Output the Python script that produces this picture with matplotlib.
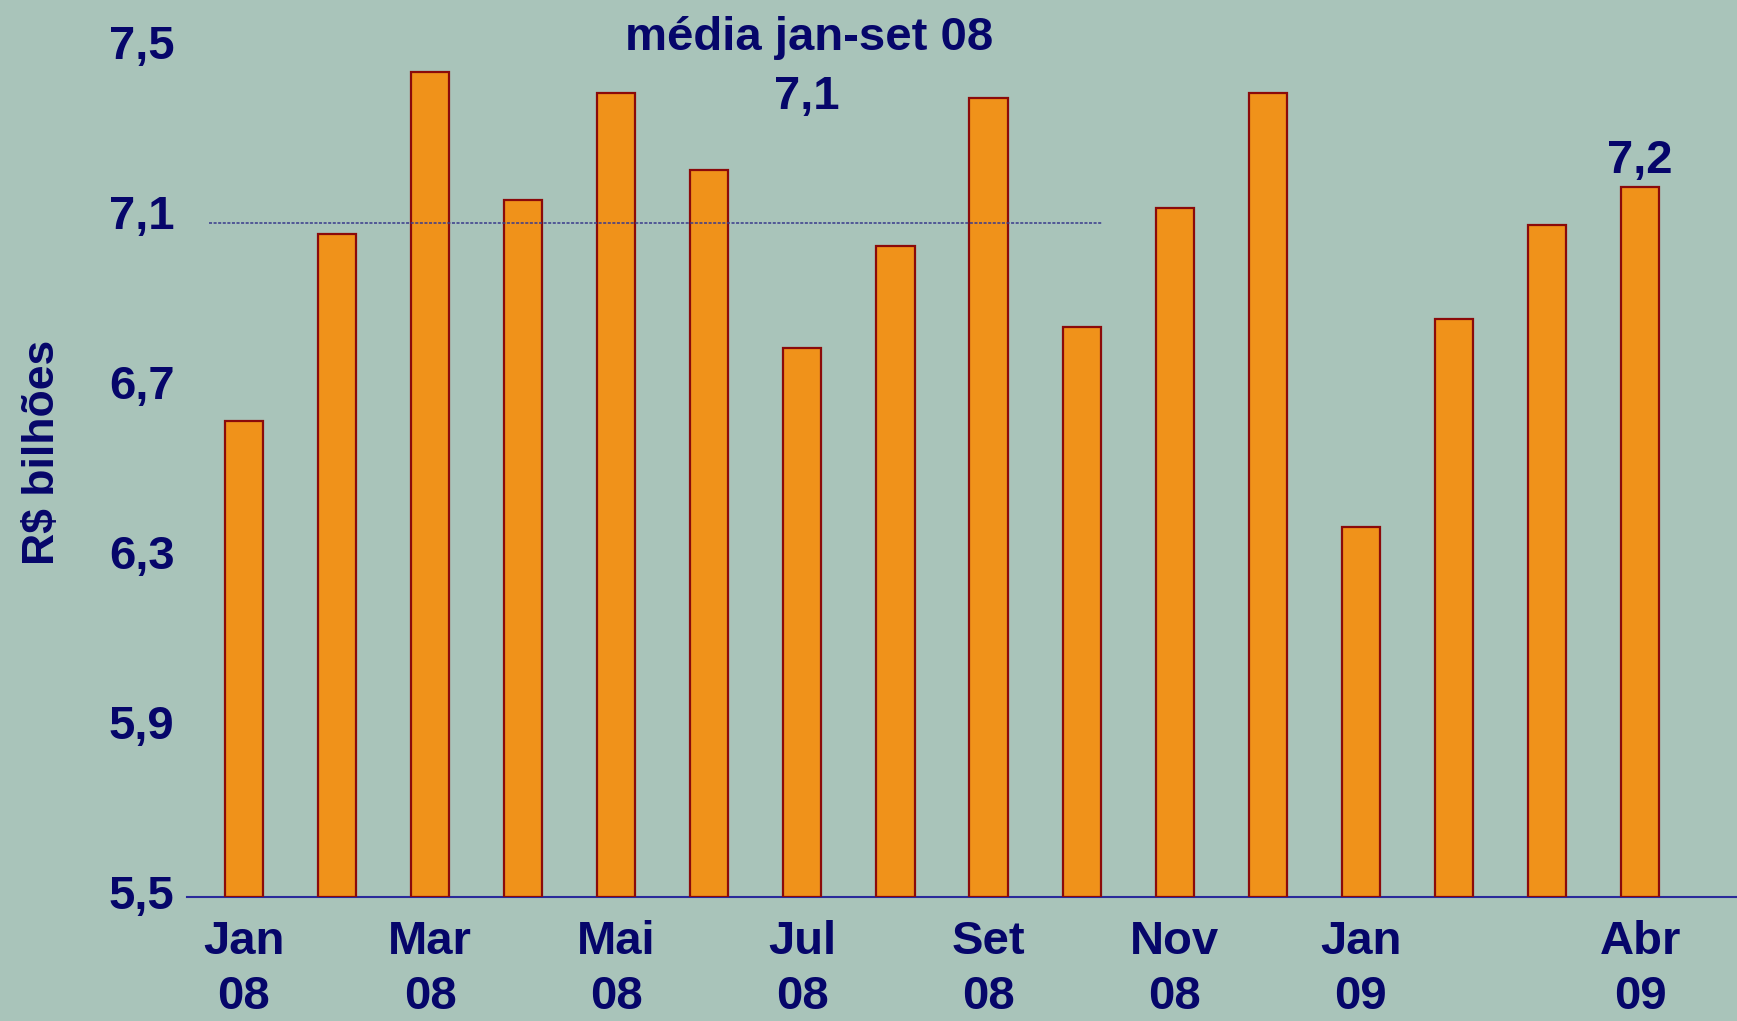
import matplotlib
matplotlib.use("Agg")
import matplotlib.pyplot as plt

# arrecadação mensal, R$ bilhões
meses = ["Jan 08", "Fev 08", "Mar 08", "Abr 08", "Mai 08", "Jun 08", "Jul 08", "Ago 08",
         "Set 08", "Out 08", "Nov 08", "Dez 08", "Jan 09", "Fev 09", "Mar 09", "Abr 09"]
valores = [6.62, 7.06, 7.44, 7.14, 7.39, 7.21, 6.79, 7.03,
           7.38, 6.84, 7.12, 7.39, 6.37, 6.86, 7.08, 7.17]
rotulos_x = ["Jan\n08", "", "Mar\n08", "", "Mai\n08", "", "Jul\n08", "",
             "Set\n08", "", "Nov\n08", "", "Jan\n09", "", "", "Abr\n09"]
y_ticks = [5.5, 5.9, 6.3, 6.7, 7.1, 7.5]
media_jan_set = 7.085

navy = "#06066a"
fundo = "#a9c4ba"

plt.rcParams["font.family"] = ["Liberation Sans", "DejaVu Sans"]
plt.rcParams["font.weight"] = "bold"

fig = plt.figure(figsize=(17.37, 10.21), dpi=100, facecolor=fundo)
ax = fig.add_axes([0.1077, 0.1217, 0.8923, 0.8326])
ax.set_facecolor("none")

x = list(range(len(valores)))
ax.bar(x, [v - 5.5 for v in valores], bottom=5.5, width=0.41,
       color="#f0921a", edgecolor="#8b0a0a", linewidth=1.6, zorder=2)

# linha da media jan-set 08
ax.plot([-0.375, 9.22], [media_jan_set, media_jan_set], color="#3a3a8c",
        linewidth=1.1, linestyle=(0, (2, 1)), zorder=3)

ax.set_xlim(-0.61, 16.04)
ax.set_ylim(5.5, 7.5)

ax.set_yticks(y_ticks)
ax.set_yticklabels([f"{t:.1f}".replace(".", ",") for t in y_ticks], va="center")
ax.set_xticks(x)
ax.set_xticklabels(rotulos_x, linespacing=1.3)
ax.tick_params(axis="both", length=0, labelsize=34, labelcolor=navy)
ax.tick_params(axis="y", pad=9)
ax.tick_params(axis="x", pad=17)

for s in ["top", "right", "left"]:
    ax.spines[s].set_visible(False)
ax.spines["bottom"].set_color("#2a2a9a")
ax.spines["bottom"].set_linewidth(1.5)
ax.spines["bottom"].set_zorder(1)

ax.annotate("7,2", xy=(x[-1], valores[-1]), xytext=(0, 10), textcoords="offset points",
            ha="center", va="baseline", fontsize=34, color=navy, fontweight="bold")

fig.text(0.4657, 0.9625, "média jan-set 08", ha="center", va="center",
         fontsize=34, color=navy, fontweight="bold")
fig.text(0.4646, 0.9050, "7,1", ha="center", va="center",
         fontsize=34, color=navy, fontweight="bold")
fig.text(0.0245, 0.557, "R$ bilhões", rotation=90, ha="center", va="center",
         fontsize=32, color=navy, fontweight="bold")

fig.savefig("out.png", dpi=100, facecolor=fundo)
